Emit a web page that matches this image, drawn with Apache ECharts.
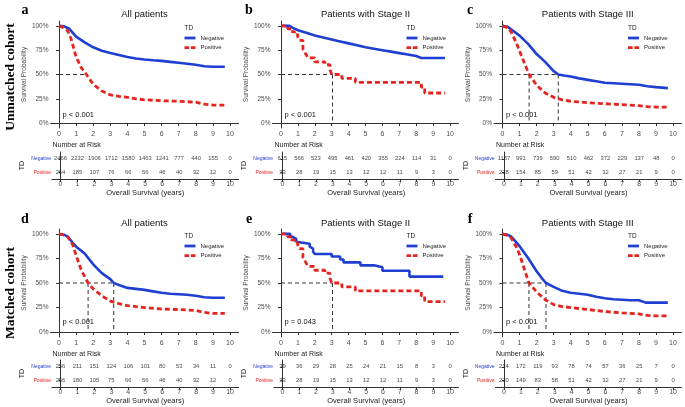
<!DOCTYPE html>
<html><head><meta charset="utf-8">
<script src="https://cdn.jsdelivr.net/npm/echarts@6/dist/echarts.min.js"></script>
<style>html,body{margin:0;padding:0;background:#fff}#c{width:685px;height:407px}</style>
</head><body><div id="c"></div>
<script>
// ---------- data ----------
const years = [0,1,2,3,4,5,6,7,8,9,10];
const yTicks = [0,0.25,0.5,0.75,1];
const titles = ['All patients','Patients with Stage II','Patients with Stage III','All patients','Patients with Stage II','Patients with Stage III'];
const letters = ['a','b','c','d','e','f'];
const pvals = ['p < 0.001','p < 0.001','p < 0.001','p < 0.001','p = 0.043','p < 0.001'];
const cohorts = ['Unmatched cohort','Matched cohort'];
const groups = ['Negative','Positive'];

const surv_a_neg = [[0,1],[0.3,0.995],[0.6,0.97],[1,0.89],[1.5,0.83],[2,0.78],[2.5,0.745],[3,0.72],[3.5,0.70],[4,0.68],[4.5,0.665],[5,0.655],[5.5,0.647],[6,0.64],[6.5,0.63],[7,0.62],[7.5,0.61],[8,0.60],[8.5,0.585],[9,0.58],[9.7,0.58]];
const surv_a_pos = [[0,1],[0.3,0.98],[0.5,0.95],[0.7,0.87],[1,0.68],[1.3,0.57],[1.6,0.50],[2,0.40],[2.5,0.33],[3,0.29],[3.5,0.275],[4,0.265],[4.5,0.25],[5,0.24],[6,0.23],[7,0.225],[8,0.215],[8.5,0.195],[9,0.185],[9.7,0.185]];
const surv_b_neg = [[0,1],[0.5,1],[0.7,0.98],[1,0.955],[1.5,0.93],[2,0.90],[2.5,0.88],[3,0.86],[3.5,0.84],[4,0.82],[4.5,0.80],[5,0.78],[5.5,0.765],[6,0.75],[6.5,0.735],[7,0.72],[7.5,0.705],[8,0.69],[8.3,0.67],[9,0.67],[9.7,0.67]];
const surv_b_pos = [[0,1],[0.4,0.97],[0.6,0.94],[0.8,0.91],[1.0,0.88],[1.1,0.85],[1.3,0.76],[1.4,0.73],[1.5,0.70],[1.6,0.67],[2.0,0.63],[2.6,0.60],[2.9,0.55],[3.0,0.50],[3.6,0.46],[4.4,0.42],[8.3,0.37],[8.5,0.31],[9.7,0.31]];
const surv_c_neg = [[0,1],[0.3,0.99],[0.5,0.965],[1,0.90],[1.5,0.815],[2,0.71],[2.5,0.63],[3,0.535],[3.27,0.50],[3.6,0.49],[4,0.48],[4.5,0.46],[5,0.445],[5.5,0.43],[6,0.415],[6.5,0.41],[7,0.405],[7.5,0.40],[8,0.395],[8.5,0.38],[9,0.37],[9.7,0.36]];
const surv_c_pos = [[0,1],[0.3,0.98],[0.5,0.94],[0.8,0.83],[1,0.74],[1.3,0.61],[1.56,0.50],[2,0.39],[2.5,0.31],[3,0.265],[3.5,0.24],[4,0.225],[5,0.21],[6,0.20],[7,0.19],[8,0.18],[8.5,0.17],[9,0.165],[9.7,0.165]];
const surv_d_neg = [[0,1],[0.3,0.99],[0.5,0.975],[0.8,0.91],[1,0.87],[1.5,0.80],[2,0.69],[2.5,0.60],[3,0.54],[3.2,0.50],[3.5,0.48],[4,0.45],[4.5,0.44],[5,0.43],[5.5,0.415],[6,0.40],[6.5,0.39],[7,0.385],[7.5,0.38],[8,0.37],[8.5,0.355],[9,0.35],[9.7,0.35]];
const surv_d_pos = [[0,1],[0.3,0.99],[0.5,0.97],[0.8,0.89],[1,0.78],[1.3,0.63],[1.7,0.50],[2,0.44],[2.5,0.37],[3,0.315],[3.5,0.29],[4,0.27],[5,0.25],[6,0.235],[7,0.23],[8,0.22],[8.5,0.20],[9,0.19],[9.7,0.19]];
const surv_e_neg = [[0,1],[0.55,0.97],[0.7,0.95],[0.9,0.92],[1.0,0.90],[1.7,0.87],[1.8,0.85],[1.9,0.82],[2.0,0.795],[3.0,0.77],[3.5,0.74],[3.7,0.71],[4.7,0.68],[5.5,0.66],[6.0,0.625],[7.6,0.565],[9.6,0.565]];
const surv_e_pos = [[0,1],[0.4,0.97],[0.6,0.94],[0.8,0.91],[1.0,0.88],[1.1,0.85],[1.3,0.76],[1.4,0.73],[1.5,0.70],[1.6,0.67],[2.0,0.63],[2.6,0.60],[2.9,0.55],[3.0,0.50],[3.6,0.46],[4.4,0.42],[8.3,0.37],[8.5,0.31],[9.7,0.31]];
const surv_f_neg = [[0,1],[0.3,0.99],[0.5,0.975],[1,0.875],[1.5,0.755],[2,0.62],[2.3,0.55],[2.55,0.50],[3,0.46],[3.5,0.42],[4,0.40],[4.5,0.39],[5,0.38],[5.5,0.36],[6,0.345],[6.5,0.335],[7,0.33],[7.5,0.325],[8,0.325],[8.4,0.30],[9,0.30],[9.7,0.30]];
const surv_f_pos = [[0,1],[0.3,0.985],[0.5,0.96],[0.8,0.87],[1,0.79],[1.3,0.63],[1.55,0.50],[2,0.41],[2.5,0.33],[3,0.28],[3.5,0.26],[4,0.25],[5,0.23],[6,0.21],[7,0.195],[8,0.185],[8.5,0.17],[9,0.165],[9.7,0.165]];

const median_a = [1.6];
const median_b = [3.05];
const median_c = [1.56, 3.27];
const median_d = [1.7, 3.2];
const median_e = [3.05];
const median_f = [1.55, 2.55];

const risk_a_neg = [2466,2232,1906,1712,1580,1463,1241,777,440,155,0];
const risk_a_pos = [264,185,107,76,66,56,46,40,32,12,0];
const risk_b_neg = [615,566,523,495,461,420,355,224,114,31,0];
const risk_b_pos = [33,28,19,15,13,12,12,11,9,3,0];
const risk_c_neg = [1187,991,739,590,510,462,372,229,137,48,0];
const risk_c_pos = [228,154,85,59,51,42,32,27,21,9,0];
const risk_d_neg = [256,211,151,124,106,101,80,53,34,11,0];
const risk_d_pos = [256,180,105,75,66,56,46,40,32,12,0];
const risk_e_neg = [39,36,29,28,25,24,21,15,8,3,0];
const risk_e_pos = [33,28,19,15,13,12,12,11,9,3,0];
const risk_f_neg = [214,172,119,93,78,74,57,36,25,7,0];
const risk_f_pos = [220,149,83,58,51,42,32,27,21,9,0];

// ---------- layout / style ----------
const F = '"Liberation Sans", Arial, sans-serif';
const FS = '"Liberation Serif", "Times New Roman", serif';
const BLUE = '#1f3fd2', RED = '#e4241f', AX = '#333333', TXT = '#4d4d4d';
const cols = [{left:50.5,width:188},{left:272.5,width:186},{left:494,width:187.5}];
const rows = [
  {plotTop:21, plotH:107, tabTop:152, tabH:27, titleY:14, pY:115, tdY:28, legTop:35, narY:145, cohortY:77, letterY:10},
  {plotTop:229, plotH:108, tabTop:360, tabH:27, titleY:223, pY:322, tdY:236, legTop:243, narY:354, cohortY:293, letterY:219}
];
const letterX = [25, 249, 470];

const panels = [
  {neg:surv_a_neg,pos:surv_a_pos,rneg:risk_a_neg,rpos:risk_a_pos,med:median_a,hOnly:true,stepNeg:false,stepPos:false},
  {neg:surv_b_neg,pos:surv_b_pos,rneg:risk_b_neg,rpos:risk_b_pos,med:median_b,hOnly:false,stepNeg:false,stepPos:true},
  {neg:surv_c_neg,pos:surv_c_pos,rneg:risk_c_neg,rpos:risk_c_pos,med:median_c,hOnly:false,stepNeg:false,stepPos:false},
  {neg:surv_d_neg,pos:surv_d_pos,rneg:risk_d_neg,rpos:risk_d_pos,med:median_d,hOnly:false,stepNeg:false,stepPos:false},
  {neg:surv_e_neg,pos:surv_e_pos,rneg:risk_e_neg,rpos:risk_e_pos,med:median_e,hOnly:false,stepNeg:true,stepPos:true},
  {neg:surv_f_neg,pos:surv_f_pos,rneg:risk_f_neg,rpos:risk_f_pos,med:median_f,hOnly:false,stepNeg:false,stepPos:false}
];

const grid = [], xAxis = [], yAxis = [], series = [], legend = [], graphic = [];
const axLine = {show:true, lineStyle:{color:AX, width:1}};
const axTick = {show:true, length:3, lineStyle:{color:AX, width:1}};
const legendData = [
  {name:'Negative', icon:'path://M0 0H12V3H0Z'},
  {name:'Positive', icon:'path://M0 0H5V3H0Z M7 0H12V3H7Z'}
];

panels.forEach((p, i) => {
  const r = rows[Math.floor(i/3)], c = cols[i%3];
  const gP = grid.length;
  grid.push({left:c.left, top:r.plotTop, width:c.width, height:r.plotH});
  const gT = grid.length;
  grid.push({left:c.left + 1.5, top:r.tabTop, width:c.width - 1.5, height:r.tabH});

  // plot axes
  xAxis.push({type:'value', gridIndex:gP, min:-0.5, max:10.5, axisLine:axLine,
    axisTick:Object.assign({customValues:years}, axTick),
    axisLabel:{customValues:years, fontSize:7, color:TXT, margin:3, fontFamily:F}, splitLine:{show:false}});
  yAxis.push({type:'value', gridIndex:gP, min:-0.05, max:1.05, axisLine:axLine,
    axisTick:Object.assign({customValues:yTicks}, axTick),
    axisLabel:{customValues:yTicks, fontSize:6.5, color:TXT, margin:2, fontFamily:F, formatter:v=>Math.round(v*100)+'%'},
    splitLine:{show:false}, name:'Survival Probability', nameLocation:'middle', nameGap:20,
    nameTextStyle:{fontSize:6.5, color:TXT, fontFamily:F}});
  // table axes
  xAxis.push({type:'value', gridIndex:gT, min:-0.5, max:10.5, axisLine:axLine,
    axisTick:Object.assign({customValues:years}, axTick),
    axisLabel:{customValues:years, fontSize:7, color:TXT, margin:2, fontFamily:F}, splitLine:{show:false},
    name:'Overall Survival (years)', nameLocation:'middle', nameGap:10, nameTextStyle:{fontSize:7.5, color:'#222', fontFamily:F}});
  yAxis.push({type:'category', gridIndex:gT, data:['Positive','Negative'], axisLine:axLine,
    axisTick:{show:true, length:2, alignWithLabel:true, lineStyle:{color:AX}},
    axisLabel:{interval:0, margin:1, fontFamily:F, formatter:v=> v==='Negative' ? '{n|Negative}' : '{p|Positive}',
      rich:{n:{color:BLUE, fontSize:5, fontFamily:F}, p:{color:RED, fontSize:5, fontFamily:F}}},
    name:'TD', nameLocation:'middle', nameGap:26, nameTextStyle:{fontSize:7, color:'#222', fontFamily:F}});

  // median lines
  const mMax = Math.max(...p.med);
  const dash = {color:AX, width:1, type:[4,3]};
  series.push({type:'line', name:'median'+i, xAxisIndex:gP, yAxisIndex:gP, symbol:'none', silent:true,
    lineStyle:dash, data:[[0,0.5],[mMax,0.5]], z:3});
  if (!p.hOnly) p.med.forEach(m => series.push({type:'line', name:'median'+i, xAxisIndex:gP, yAxisIndex:gP, symbol:'none', silent:true,
    lineStyle:dash, data:[[m,0.5],[m,0]], z:3}));

  // curves
  series.push({type:'line', name:'Negative', xAxisIndex:gP, yAxisIndex:gP, symbol:'none', showSymbol:false,
    step: p.stepNeg ? 'end' : false, itemStyle:{color:BLUE}, lineStyle:{color:BLUE, width:2.6}, data:p.neg, z:4});
  series.push({type:'line', name:'Positive', xAxisIndex:gP, yAxisIndex:gP, symbol:'none', showSymbol:false,
    step: p.stepPos ? 'end' : false, itemStyle:{color:RED}, lineStyle:{color:RED, width:2.8, type:[5,3]}, data:p.pos, z:5});

  // risk table
  const tdata = [];
  years.forEach((y, k) => { tdata.push([y, 'Negative', p.rneg[k]]); tdata.push([y, 'Positive', p.rpos[k]]); });
  series.push({type:'scatter', name:'risk'+i, xAxisIndex:gT, yAxisIndex:gT, symbolSize:1, itemStyle:{color:'rgba(0,0,0,0)'},
    data:tdata, label:{show:true, position:'inside', formatter:q=>q.value[2], fontSize:5.8, color:'#111', fontFamily:F}});

  // legend
  legend.push({data:legendData, orient:'vertical', left:c.left + 134, top:r.legTop,
    itemWidth:11, itemHeight:3, itemGap:3.5, padding:0, selectedMode:false, textStyle:{fontSize:6, color:'#222', fontFamily:F}});

  // texts
  graphic.push({type:'text', x:c.left + c.width/2, y:r.titleY, style:{text:titles[i], fill:'#111', font:'9.5px '+F, textAlign:'center', textVerticalAlign:'middle'}});
  graphic.push({type:'text', x:c.left + 12, y:r.pY, style:{text:pvals[i], fill:'#111', font:'7.5px '+F, textVerticalAlign:'middle'}});
  graphic.push({type:'text', x:c.left + 134, y:r.tdY, style:{text:'TD', fill:'#222', font:'6.5px '+F, textVerticalAlign:'middle'}});
  graphic.push({type:'text', x:c.left + 2, y:r.narY, style:{text:'Number at Risk', fill:'#222', font:'7px '+F, textVerticalAlign:'middle'}});
  graphic.push({type:'text', x:letterX[i%3], y:r.letterY, style:{text:letters[i], fill:'#000', font:'bold 14px '+FS, textAlign:'center', textVerticalAlign:'middle'}});
});

cohorts.forEach((t, j) => {
  graphic.push({type:'text', x:11, y:rows[j].cohortY, rotation:Math.PI/2,
    style:{text:t, fill:'#000', font:'bold 13.5px '+FS, textAlign:'center', textVerticalAlign:'middle'}});
});

const chart = echarts.init(document.getElementById('c'), null, {renderer:'canvas'});
chart.setOption({animation:false, textStyle:{fontFamily:F}, grid, xAxis, yAxis, series, legend, graphic});
</script></body></html>
